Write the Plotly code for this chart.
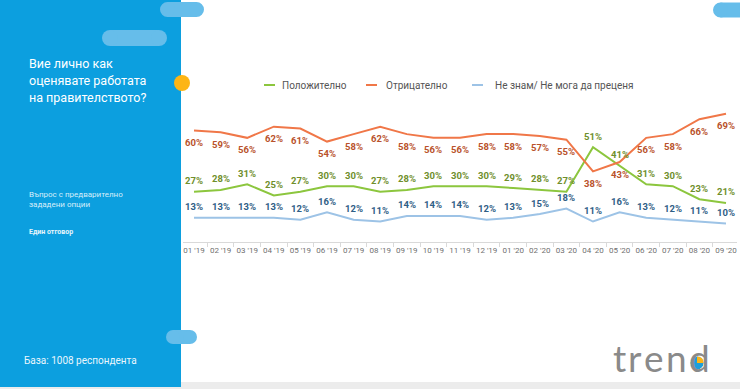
import plotly.graph_objects as go

W, H = 740, 389

months = ["01 '19", "02 '19", "03 '19", "04 '19", "05 '19", "06 '19", "07 '19",
          "08 '19", "09 '19", "10 '19", "11 '19", "12 '19", "01 '20", "02 '20",
          "03 '20", "04 '20", "05 '20", "06 '20", "07 '20", "08 '20", "09 '20"]
negative = [60, 59, 56, 62, 61, 54, 58, 62, 58, 56, 56, 58, 58, 57, 55, 38, 43, 56, 58, 66, 69]
positive = [27, 28, 31, 25, 27, 30, 30, 27, 28, 30, 30, 30, 29, 28, 27, 51, 41, 31, 30, 23, 21]
dont_know = [13, 13, 13, 13, 12, 16, 12, 11, 14, 14, 14, 12, 13, 15, 18, 11, 16, 13, 12, 11, 10]

series_names = ["Положително", "Отрицателно", "Не знам/ Не мога да преценя"]
line_colors = ["#8CC63E", "#F07748", "#9DC3E6"]
label_colors = ["#6F8F2C", "#B9522B", "#2F5E86"]
label_shift = [11, -12, 11]
series_vals = [positive, negative, dont_know]


def px(x):
    return x / W


def py(y):
    return 1 - y / H


fig = go.Figure()
for name, vals, col in zip(series_names, series_vals, line_colors):
    fig.add_trace(go.Scatter(x=months, y=vals, mode="lines", name=name,
                             line=dict(color=col, width=2), showlegend=False,
                             hoverinfo="skip"))

annotations = []
for vals, lc, sh in zip(series_vals, label_colors, label_shift):
    for m, v in zip(months, vals):
        annotations.append(dict(x=m, y=v, xref="x", yref="y", text=f"<b>{v}%</b>",
                                showarrow=False, yshift=sh,
                                font=dict(family="Roboto", size=9.5, color=lc)))

shapes = []
BLUE = "#0C9FDF"
PILL = "#66BDEA"
shapes.append(dict(type="rect", xref="paper", yref="paper", x0=0, x1=1,
                   y0=py(389), y1=py(382), fillcolor="#ececec", line_width=0, layer="above"))
shapes.append(dict(type="rect", xref="paper", yref="paper", x0=0, x1=px(181),
                   y0=py(387), y1=1, fillcolor=BLUE, line_width=0, layer="above"))


def pill(x0, x1, yc, r, color=PILL):
    out = [dict(type="rect", xref="paper", yref="paper", x0=px(x0 + r), x1=px(x1 - r),
                y0=py(yc + r), y1=py(yc - r), fillcolor=color, line_width=0, layer="above")]
    for cx in (x0 + r, x1 - r):
        out.append(dict(type="circle", xref="paper", yref="paper", x0=px(cx - r), x1=px(cx + r),
                        y0=py(yc + r), y1=py(yc - r), fillcolor=color, line_width=0, layer="above"))
    return out


shapes += pill(160, 204, 9.5, 7.5)
shapes += pill(102, 167, 38, 8)
shapes += pill(713, 754, 10, 7.5)
shapes += pill(166, 197, 337, 7)
shapes.append(dict(type="circle", xref="paper", yref="paper", x0=px(174), x1=px(190),
                   y0=py(91), y1=py(75), fillcolor="#FDB515", line_width=0, layer="above"))

leg_items = [(264, 280), (366, 384), (472, 493)]
for (lx, tx), name, col in zip(leg_items, series_names, line_colors):
    shapes.append(dict(type="line", xref="paper", yref="paper", x0=px(lx), x1=px(lx + 11),
                       y0=py(85), y1=py(85), line=dict(color=col, width=2), layer="above"))
    annotations.append(dict(x=px(tx), y=py(85), xref="paper", yref="paper", text=name,
                            showarrow=False, xanchor="left", yanchor="middle",
                            font=dict(family="Roboto", size=10, color="#555555")))

title_lines = ["Вие лично как", "оценявате работата", "на правителството?"]
for i, t in enumerate(title_lines):
    annotations.append(dict(x=px(27), y=py(64 + 16.5 * i), xref="paper", yref="paper", text=t,
                            showarrow=False, xanchor="left", yanchor="middle",
                            font=dict(family="Roboto", size=12.5, color="#ffffff")))
sub_lines = ["Въпрос с предварително", "зададени опции"]
for i, t in enumerate(sub_lines):
    annotations.append(dict(x=px(27), y=py(194 + 10.5 * i), xref="paper", yref="paper", text=t,
                            showarrow=False, xanchor="left", yanchor="middle",
                            font=dict(family="Roboto", size=8, color="#d6eefa")))
annotations.append(dict(x=px(27), y=py(232), xref="paper", yref="paper", text="<b>Един отговор</b>",
                        showarrow=False, xanchor="left", yanchor="middle",
                        font=dict(family="Roboto", size=7, color="#e6f5fc")))
annotations.append(dict(x=px(22), y=py(360), xref="paper", yref="paper", text="База: 1008 респондента",
                        showarrow=False, xanchor="left", yanchor="middle",
                        font=dict(family="Roboto", size=10, color="#eaf6fd")))

logo_letters = ["t", "r", "e", "n", "d"]
logo_x = [619, 635, 654, 676, 699]
for ch, lx in zip(logo_letters, logo_x):
    annotations.append(dict(x=px(lx), y=py(357), xref="paper", yref="paper", text=ch,
                            showarrow=False, xanchor="center", yanchor="middle",
                            font=dict(family="Lato", size=37, color="#8a8a8a")))
shapes.append(dict(type="circle", xref="paper", yref="paper", x0=px(690), x1=px(704),
                   y0=py(370), y1=py(356), fillcolor="#1E9FD9", line=dict(color="#ffffff", width=1),
                   layer="above"))
shapes.append(dict(type="path", xref="paper", yref="paper",
                   path=f"M {px(697)},{py(363)} L {px(697)},{py(356.5)} Q {px(703.5)},{py(356.5)} {px(703.5)},{py(363)} Z",
                   fillcolor="#FDB515", line_width=0, layer="above"))

fig.update_layout(
    width=W, height=H,
    margin=dict(l=0, r=0, t=0, b=0),
    paper_bgcolor="#ffffff", plot_bgcolor="rgba(0,0,0,0)",
    shapes=shapes, annotations=annotations,
    xaxis=dict(domain=[px(183), px(737)], type="category", showgrid=False,
               showline=True, linecolor="#d9d9d9", linewidth=1,
               ticks="outside", ticklen=4, tickcolor="#d9d9d9", tickson="boundaries",
               tickangle=0,
               tickfont=dict(family="Roboto", size=8, color="#707070"),
               zeroline=False, fixedrange=True),
    yaxis=dict(domain=[py(242), py(102.5)], range=[0, 75], visible=False,
               showgrid=False, zeroline=False, fixedrange=True),
    showlegend=False,
)

fig.write_html("out.html", config={"displayModeBar": False},
               post_script="document.body.style.margin='0';")
